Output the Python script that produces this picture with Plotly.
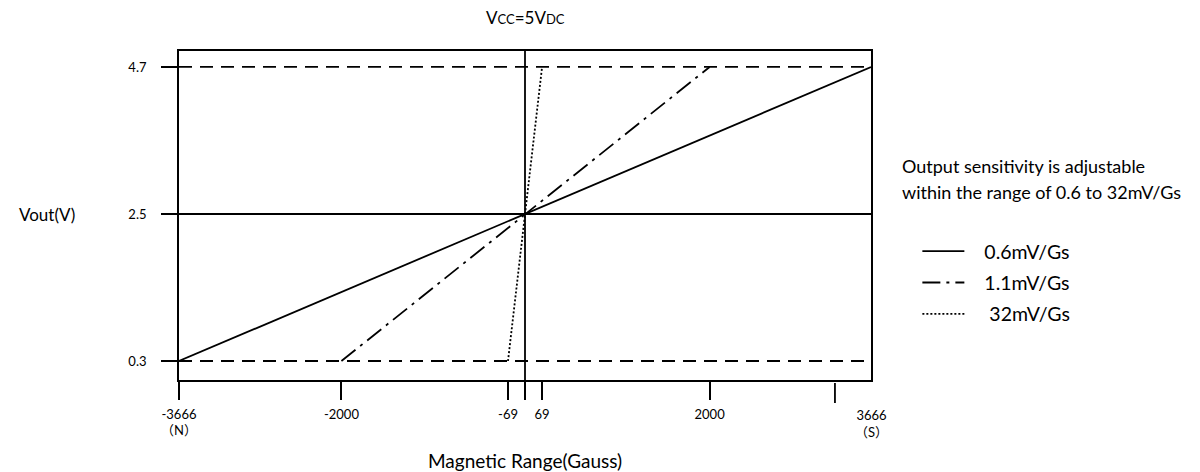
import numpy as np
import plotly.graph_objects as go

# ---- data ----
series_names = ["0.6mV/Gs", "1.1mV/Gs", "32mV/Gs"]
series_field_gauss = [[-3666, 3666], [-2000, 2000], [-69, 69]]   # x endpoints (Gauss)
series_vout = [[0.3, 4.7], [0.3, 4.7], [0.3, 4.7]]               # Vout (V)

x_tick_gauss = [-3666, -2000, -69, 0, 69, 2000, 3666]
x_tick_labels = ["-3666<br>（N）", "-2000", "-69", "", "69", "2000", "3666<br>（S）"]
# the reference axis is schematic (not to scale): where each tick is drawn on it
x_tick_drawn = [-3666, -1945, -180, 0, 181, 1956, 3666]

y_tick_vals = [0.3, 2.5, 4.7]
y_tick_labels = ["0.3", "2.5", "4.7"]
v_low, v_mid, v_high = 0.3, 2.5, 4.7

FONT = "Lato, 'Noto Sans CJK SC', sans-serif"
LW = 1.8
NB = "\u00a0"


def to_axis(g):
    return np.interp(g, x_tick_gauss, x_tick_drawn)


dashes = ["solid", "18px,6px,3px,6px", "2px,2px"]
legend_pad = [NB * 3, NB * 3, NB * 4]

fig = go.Figure()
for i, name in enumerate(series_names):
    fig.add_trace(go.Scatter(
        x=to_axis(series_field_gauss[i]), y=series_vout[i], mode="lines",
        name=legend_pad[i] + name, legendgroup=name,
        line=dict(color="black", width=LW, dash=dashes[i]),
        hoverinfo="skip"))

xmin, xmax = x_tick_drawn[0], x_tick_drawn[-1]
shapes = [
    # saturation levels
    dict(type="line", x0=xmin, x1=xmax, y0=v_high, y1=v_high, xref="x", yref="y",
         line=dict(color="black", width=LW, dash="13px,8px"), layer="below"),
    dict(type="line", x0=xmin, x1=xmax, y0=v_low, y1=v_low, xref="x", yref="y",
         line=dict(color="black", width=LW, dash="13px,8px"), layer="below"),
    # null level
    dict(type="line", x0=xmin, x1=xmax, y0=v_mid, y1=v_mid, xref="x", yref="y",
         line=dict(color="black", width=LW), layer="below"),
    # zero field
    dict(type="line", x0=0, x1=0, y0=0, y1=1, xref="x", yref="paper",
         line=dict(color="black", width=LW), layer="below"),
    # stray tick on the reference
    dict(type="line", x0=3284, x1=3284, y0=-0.009, y1=-0.070, xref="x", yref="paper",
         line=dict(color="black", width=LW)),
]

annotations = [
    dict(text="V<span style='font-size:13px'>CC</span>=5V<span style='font-size:13px'>DC</span>",
         x=0.5, y=1, xref="paper", yref="paper", yanchor="bottom", yshift=21,
         showarrow=False, font=dict(size=17, family=FONT, color="black")),
    dict(text="Vout(V)", x=0, y=v_mid, xref="paper", yref="y", xanchor="right",
         xshift=-102, showarrow=False, font=dict(size=17, family=FONT, color="black")),
    dict(text="Magnetic Range(Gauss)", x=0.5, y=0, xref="paper", yref="paper",
         yanchor="middle", yshift=-80, showarrow=False,
         font=dict(size=19, family=FONT, color="black")),
    dict(text="Output sensitivity is adjustable", x=1, y=v_mid, xref="paper", yref="y",
         xanchor="left", xshift=29, yshift=48, showarrow=False, align="left",
         font=dict(size=18, family=FONT, color="black")),
    dict(text="within the range of 0.6 to 32mV/Gs", x=1, y=v_mid, xref="paper", yref="y",
         xanchor="left", xshift=29, yshift=22, showarrow=False, align="left",
         font=dict(size=18, family=FONT, color="black")),
    dict(text=x_tick_labels[-1], x=xmax, y=0, xref="x", yref="paper",
         yanchor="top", yshift=-25, showarrow=False,
         font=dict(size=13, family=FONT, color="black")),
]

# the page body adds an 8px offset; width/height and margins compensate for it
fig.update_layout(
    width=1192, height=464, autosize=False,
    margin=dict(l=171, r=329, t=43, b=92),
    paper_bgcolor="white", plot_bgcolor="white",
    font=dict(family=FONT, color="black"),
    showlegend=True,
    legend=dict(x=1.067, y=0.45, xanchor="left", yanchor="top",
                font=dict(size=19.5, family=FONT, color="black"),
                itemwidth=42, tracegroupgap=3, traceorder="grouped",
                bgcolor="rgba(0,0,0,0)"),
    shapes=shapes,
    annotations=annotations,
    xaxis=dict(range=[xmin, xmax], tickmode="array",
               tickvals=x_tick_drawn[:-1], ticktext=x_tick_labels[:-1],
               ticks="outside", ticklen=18, tickwidth=LW, tickcolor="black",
               showline=True, linecolor="black", linewidth=LW, mirror=True,
               showgrid=False, zeroline=False, ticklabelstandoff=3,
               tickfont=dict(size=13, family=FONT, color="black")),
    yaxis=dict(range=[0.016, 4.939], tickmode="array",
               tickvals=y_tick_vals, ticktext=y_tick_labels,
               ticks="outside", ticklen=16, tickwidth=LW, tickcolor="black",
               showline=True, linecolor="black", linewidth=LW, mirror=True,
               showgrid=False, zeroline=False, ticklabelstandoff=12,
               tickfont=dict(size=13, family=FONT, color="black")),
)

fig.write_html("out.html")
